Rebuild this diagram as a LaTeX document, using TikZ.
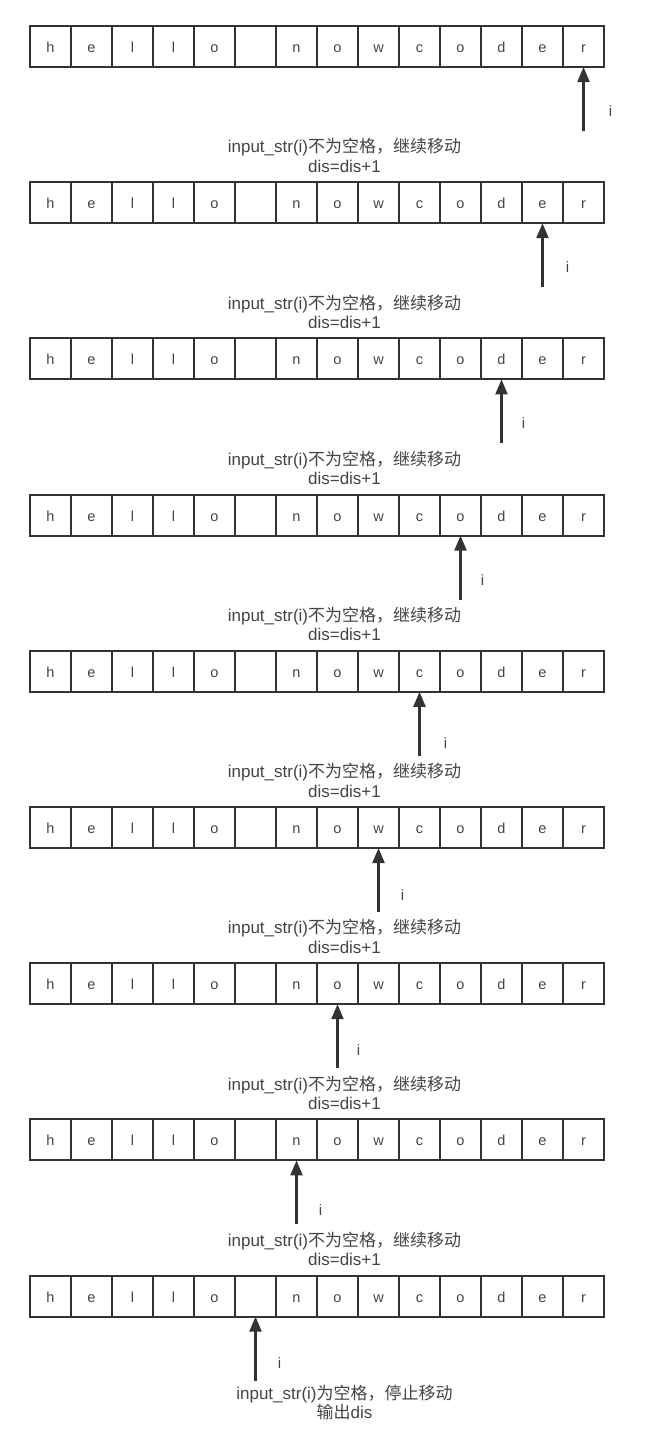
\documentclass[tikz,border=0pt]{standalone}
\usepackage{fontspec}
\setmainfont{Liberation Sans}
\newfontfamily\cjk{Noto Sans CJK SC}
\usetikzlibrary{arrows.meta}
\definecolor{ln}{HTML}{333333}
\definecolor{tx}{HTML}{444444}
\begin{document}
\begin{tikzpicture}[x=1pt,y=-1pt,
  cell/.style={draw=ln, line width=2pt, minimum width=41pt, minimum height=41pt,
    inner sep=0pt, outer sep=0pt, anchor=north west, text=tx, text height=12pt, text depth=0pt,
    font=\fontsize{14.5}{16}\selectfont},
  arr/.style={draw=ln, line width=2.2pt, -{Triangle[length=15pt,width=12pt]}},
  lbl/.style={text=tx, inner sep=0pt, font=\fontsize{15}{17}\selectfont},
  msg/.style={text=tx, inner sep=0pt, align=center, font=\fontsize{17}{19.5}\selectfont}]
\useasboundingbox (0,0) rectangle (669,1440);
\fill[white] (0,0) rectangle (669,1440);
\foreach \ri/\dx/\dy in {1/27/44, 2/25/44, 3/22/44, 4/22/44, 5/26/51, 6/24/47, 7/21/46, 8/24/50, 9/24/46} {
  \pgfmathsetmacro\toprow{26+156.2*(\ri-1)}
  \pgfmathtruncatemacro\col{15-\ri}
  \foreach \ch [count=\ci] in {h,e,l,l,o,{},n,o,w,c,o,d,e,r} {
    \node[cell] (c\ri-\ci) at ({30+41*(\ci-1)},\toprow) {\ch};
  }
  \pgfmathsetmacro\ax{30+41*(\col-1)+20.5}
  \coordinate (t\ri) at (\ax,\toprow+41+64);
  \draw[arr] (t\ri) -- (c\ri-\col.south);
  \node[lbl] (i\ri) at (\ax+\dx,\toprow+41+\dy) {i};
  \ifnum\ri<9
    \node[msg] (m\ri) at (344.5,\toprow+41+88.5) {input\_str(i){\cjk 不为空格，继续移动}\\dis=dis+1};
  \else
    \node[msg] (m\ri) at (344.5,\toprow+41+86) {input\_str(i){\cjk 为空格，停止移动}\\{\cjk 输出}dis};
  \fi
}
\end{tikzpicture}
\end{document}
